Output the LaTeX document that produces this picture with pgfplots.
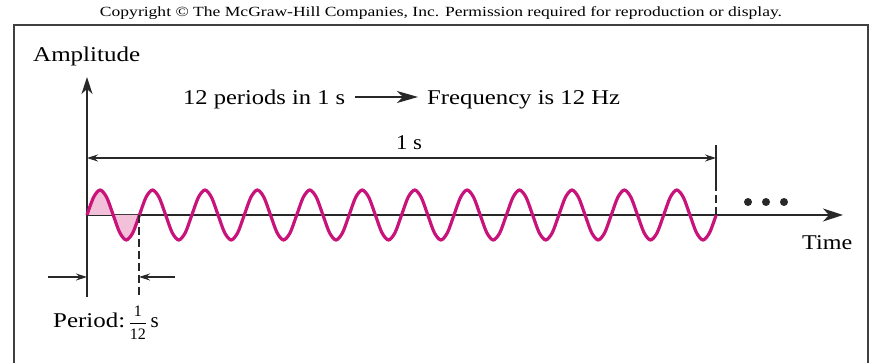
\documentclass[border=0pt]{standalone}
\usepackage{amsmath}
\usepackage{fontspec}
\setmainfont{Liberation Serif}
\usepackage{graphicx}
\usepackage{pgfplots}
\pgfplotsset{compat=1.18}
\usetikzlibrary{arrows.meta}

\definecolor{wave}{RGB}{200,20,122}
\definecolor{wavefill}{RGB}{242,192,217}
\definecolor{ink}{RGB}{40,40,40}

% stretch a label to a given width, keeping its height
\newcommand{\fitw}[2]{\resizebox{#1}{\height}{#2}}
% one-twelfth, digits in the text face
\newcommand{\twelfth}{{\fontsize{16}{18}\selectfont$\displaystyle\frac{\text{1}}{\text{12}}$}}

\begin{document}
\begin{tikzpicture}[x=1pt,y=1pt,font=\fontsize{21}{24}\selectfont]
\useasboundingbox (0,0) rectangle (874,363);

% frame
\draw[line width=1.4pt, black!75] (14,-3) -- (14,338) -- (868,338) -- (868,-3);

% copyright line
\node[anchor=base, inner sep=0pt, font=\fontsize{14}{16}\selectfont]
  at (441,346) {\fitw{682pt}{Copyright \textcopyright{} The McGraw-Hill Companies, Inc. Permission required for reproduction or display.}};

\begin{axis}[
  at={(87pt,66pt)}, anchor=south west,
  scale only axis, width=756pt, height=220pt,
  xmin=0, xmax=14.42, ymin=-3.28, ymax=5.52,
  enlargelimits=false, clip=false,
  axis lines=middle,
  xtick=\empty, ytick=\empty,
  axis line style={line width=1.2pt, ink},
  x axis line style={-{Stealth[length=20pt,width=13pt,inset=6pt]}},
  y axis line style={-{Stealth[length=17pt,width=11pt,inset=5pt]}},
]
% shaded first period
\addplot[fill=wavefill, draw=none, smooth] coordinates {
  (0,0) (0.125,0.7071) (0.25,1) (0.375,0.7071) (0.5,0) (0.625,-0.7071) (0.75,-1) (0.875,-0.7071) (1,0)
} -- cycle;
% 12 periods in one second (x in periods)
\addplot[wave, line width=3.2pt, smooth] coordinates {
  (0,0) (0.125,0.7071) (0.25,1) (0.375,0.7071) (0.5,0) (0.625,-0.7071) (0.75,-1) (0.875,-0.7071)
  (1,0) (1.125,0.7071) (1.25,1) (1.375,0.7071) (1.5,0) (1.625,-0.7071) (1.75,-1) (1.875,-0.7071)
  (2,0) (2.125,0.7071) (2.25,1) (2.375,0.7071) (2.5,0) (2.625,-0.7071) (2.75,-1) (2.875,-0.7071)
  (3,0) (3.125,0.7071) (3.25,1) (3.375,0.7071) (3.5,0) (3.625,-0.7071) (3.75,-1) (3.875,-0.7071)
  (4,0) (4.125,0.7071) (4.25,1) (4.375,0.7071) (4.5,0) (4.625,-0.7071) (4.75,-1) (4.875,-0.7071)
  (5,0) (5.125,0.7071) (5.25,1) (5.375,0.7071) (5.5,0) (5.625,-0.7071) (5.75,-1) (5.875,-0.7071)
  (6,0) (6.125,0.7071) (6.25,1) (6.375,0.7071) (6.5,0) (6.625,-0.7071) (6.75,-1) (6.875,-0.7071)
  (7,0) (7.125,0.7071) (7.25,1) (7.375,0.7071) (7.5,0) (7.625,-0.7071) (7.75,-1) (7.875,-0.7071)
  (8,0) (8.125,0.7071) (8.25,1) (8.375,0.7071) (8.5,0) (8.625,-0.7071) (8.75,-1) (8.875,-0.7071)
  (9,0) (9.125,0.7071) (9.25,1) (9.375,0.7071) (9.5,0) (9.625,-0.7071) (9.75,-1) (9.875,-0.7071)
  (10,0) (10.125,0.7071) (10.25,1) (10.375,0.7071) (10.5,0) (10.625,-0.7071) (10.75,-1) (10.875,-0.7071)
  (11,0) (11.125,0.7071) (11.25,1) (11.375,0.7071) (11.5,0) (11.625,-0.7071) (11.75,-1) (11.875,-0.7071)
  (12,0)
};
\end{axis}

% axis titles
\node[anchor=base west, inner sep=0pt] at (33,301) {\fitw{107pt}{Amplitude}};
\node[anchor=base west, inner sep=0pt] at (802,113) {\fitw{50pt}{Time}};

% headline
\node[anchor=base west, inner sep=0pt] at (183,258) {\fitw{162pt}{12 periods in 1 s}};
\draw[line width=1.2pt, ink, -{Stealth[length=21pt,width=12pt,inset=6pt]}] (355,266) -- (418,266);
\node[anchor=base west, inner sep=0pt] at (427,258) {\fitw{193pt}{Frequency is 12 Hz}};

% one-second dimension
\draw[line width=1.1pt, ink, {Stealth[length=11pt,width=7pt]}-{Stealth[length=11pt,width=7pt]}] (87,205) -- (716,205);
\node[anchor=base, inner sep=0pt] at (409,213) {\fitw{26pt}{1 s}};
\draw[line width=1.1pt, ink] (716,218) -- (716,180);
\draw[line width=1.1pt, ink, dash pattern=on 8pt off 4pt] (716,180) -- (716,148);

% ellipsis
\fill[ink] (748,161) circle (4) (766,161) circle (4) (784,161) circle (4);

% period dimension
\draw[line width=1.1pt, ink, dash pattern=on 8pt off 4pt] (139,148) -- (139,66);
\draw[line width=1.1pt, ink, -{Stealth[length=11pt,width=7pt]}] (48,86) -- (87,86);
\draw[line width=1.1pt, ink, -{Stealth[length=11pt,width=7pt]}] (175,86) -- (139,86);
\node[anchor=base west, inner sep=0pt] at (53,35) {\fitw{72pt}{Period:}\,\twelfth\,s};
\end{tikzpicture}
\end{document}
